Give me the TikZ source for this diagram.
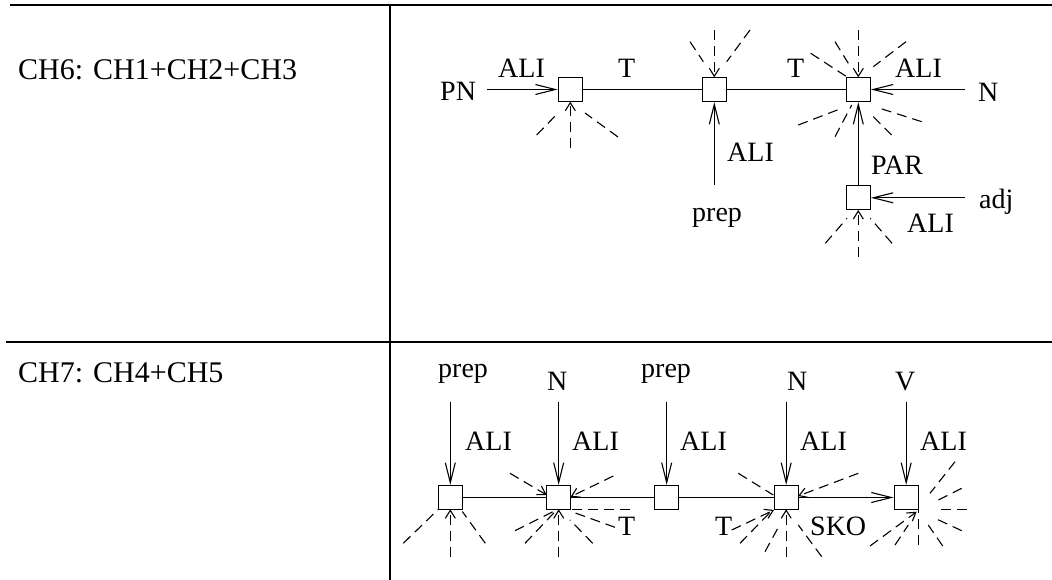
\documentclass[tikz,border=0pt]{standalone}
\usepackage{fontspec}
\setmainfont{Liberation Serif}
\usetikzlibrary{arrows.meta,calc}
\newcommand\dray[4][dsh]{\draw[#1] ($(#2)+(#3)$) -- ($(#2)+(#4)$);}
\begin{document}
\begin{tikzpicture}[x=1pt,y=-1pt,
  bx/.style={draw,line width=1.2pt,minimum size=24pt,inner sep=0pt,fill=white},
  lbl/.style={inner sep=0pt,anchor=base west,font=\fontsize{28}{30}\selectfont},
  hdr/.style={inner sep=0pt,anchor=base west,font=\fontsize{30}{32}\selectfont},
  sln/.style={line width=1.1pt},
  sarr/.style={line width=1.1pt,-{Straight Barb[length=20pt,width=10pt]}},
  dsh/.style={line width=1.1pt,dash pattern=on 10pt off 6pt},
  darr/.style={dsh,-{Straight Barb[length=8pt,width=10pt]}},
  tbl/.style={line width=1.4pt}]
\useasboundingbox (0,0) rectangle (1052,580);
% table
\draw[tbl] (10,5) -- (1052,5);
\draw[tbl] (6,342) -- (1052,342);
\draw[tbl] (390,5) -- (390,580);
\node[hdr] (h6) at (18,80) {CH6: CH1+CH2+CH3};
\node[hdr] (h7) at (18,382) {CH7: CH4+CH5};

% ---------- upper diagram ----------
\node[bx] (b1) at (570.3,89.5) {};
\node[bx] (b2) at (714.3,89.5) {};
\node[bx] (b3) at (858.3,89.5) {};
\node[bx] (b4) at (858.3,197.8) {};
\coordinate (pnS) at (486.7,89.5);
\coordinate (nS) at (965,89.5);
\coordinate (prS) at (714.3,185);
\coordinate (adS) at (965,197.8);

\draw[sln] (b1) -- (b2);
\draw[sln] (b2) -- (b3);
\draw[sarr] (pnS) -- (b1.west);
\draw[sarr] (nS) -- (b3.east);
\draw[sarr] (prS) -- (b2.south);
\draw[sarr] (b4.north) -- (b3.south);
\draw[sarr] (adS) -- (b4.east);

\node[lbl] (pn) at (440,101) {PN};
\node[lbl] (a1) at (498,78) {ALI};
\node[lbl] (t1) at (618,77.5) {T};
\node[lbl] (t2) at (787,77.5) {T};
\node[lbl] (a2) at (895,77.5) {ALI};
\node[lbl] (nn) at (978,101.5) {N};
\node[lbl] (a3) at (727,162) {ALI};
\node[lbl] (pr) at (692,221.5) {prep};
\node[lbl] (par) at (871,175) {PAR};
\node[lbl] (adj) at (979,208) {adj};
\node[lbl] (a4) at (907,233) {ALI};

% dashed rays upper
\dray[darr]{b1}{0,58.8}{0,12.2}
\dray{b1}{-33.6,45.5}{-12.3,23.5}
\dray{b1}{47.7,47.5}{14.7,23.5}

\dray[darr]{b2}{0,-59.5}{0,-12.2}
\dray{b2}{-24.3,-47.8}{-11,-27.8}
\dray{b2}{35.7,-59.5}{12.4,-27.8}

\dray[darr]{b3}{0,-59.5}{0,-12.2}
\dray{b3}{-23.3,-47.8}{-10,-26.2}
\dray{b3}{-47.6,-36.2}{-11.6,-12.8}
\dray{b3}{47.7,-47.8}{15,-22.8}
\dray{b3}{-60,35.5}{-16.6,18.8}
\dray{b3}{-23.3,47.2}{-6.6,15.5}
\dray{b3}{63.4,32.2}{18.4,17.8}
\dray{b3}{33.4,45.5}{13.4,25.5}

\dray[darr]{b4}{0,58.9}{0,12.2}
\dray{b4}{-33,45.5}{-11.3,20.5}
\dray{b4}{33.7,45.5}{12,20.5}

% ---------- lower diagram ----------
\node[bx] (c1) at (450.3,497.5) {};
\node[bx] (c2) at (558.7,497.5) {};
\node[bx] (c3) at (666.7,497.5) {};
\node[bx] (c4) at (786.2,497.5) {};
\node[bx] (c5) at (906.2,497.5) {};
\coordinate (s1) at (450.3,401.7);
\coordinate (s2) at (558.7,401.7);
\coordinate (s3) at (666.7,401.7);
\coordinate (s4) at (786.2,401.7);
\coordinate (s5) at (906.2,401.7);

\draw[sln] (c1) -- (c2);
\draw[sln] (c2) -- (c3);
\draw[sln] (c3) -- (c4);
\draw[sarr] (c4.east) -- (c5.west);
\foreach \i in {1,...,5}{\draw[sarr] (s\i) -- (c\i.north);}

\node[lbl] (p1) at (438,377) {prep};
\node[lbl] (n1) at (547,390) {N};
\node[lbl] (p2) at (641,377) {prep};
\node[lbl] (n2) at (787,390) {N};
\node[lbl] (v1) at (895,390) {V};
\node[lbl] (l1) at (465,450) {ALI};
\node[lbl] (l2) at (572,450) {ALI};
\node[lbl] (l3) at (680,450) {ALI};
\node[lbl] (l4) at (800,450) {ALI};
\node[lbl] (l5) at (920,450) {ALI};
\node[lbl] (t3) at (618,535) {T};
\node[lbl] (t4) at (715,535) {T};
\node[lbl] (sko) at (810,535) {SKO};

% dashed rays lower
\dray[darr]{c1}{0,59.2}{0,11.8}
\dray{c1}{-47,45.8}{-12,11.8}
\dray{c1}{35,45.8}{12,14}

\dray[darr]{c2}{-48.7,-24.2}{-12,-2.5}
\dray[darr]{c2}{54.6,-21.5}{12,-0.8}
\dray{c2}{71.3,11.8}{13,11.8}
\dray{c2}{56.3,29.8}{13,14.2}
\dray{c2}{34,45.8}{11.3,22.5}
\dray{c2}{-43.7,33.2}{-5.7,14.2}
\dray{c2}{-33.7,45.8}{-3.7,14.2}
\dray[darr]{c2}{0,59.2}{0,11.8}

\dray{c4}{-47.9,-24.2}{-12.9,-2.5}
\dray[darr]{c4}{72.1,-24.2}{12,-1.5}
\dray[darr]{c4}{-54.5,32.5}{-12.2,12.5}
\dray{c4}{-46.2,45.8}{-15.4,14.2}
\dray{c4}{-21.2,54.2}{-7.9,29.8}
\dray[darr]{c4}{0,59.2}{0,11.8}
\dray{c4}{35.5,59.2}{12.1,27.5}

\dray{c5}{48.8,-35.8}{23.8,-4.2}
\dray{c5}{55.5,-9.2}{28.8,4.2}
\dray{c5}{60.5,11.8}{30.5,11.8}
\dray{c5}{55.5,33.2}{28.8,20.8}
\dray{c5}{36.5,48.5}{22.1,27.5}
\dray{c5}{12.1,47}{12.1,11.8}
\dray{c5}{-11.2,47.5}{2.1,27.5}
\dray[darr]{c5}{-36.2,48.5}{10.5,14.2}
\end{tikzpicture}
\end{document}
